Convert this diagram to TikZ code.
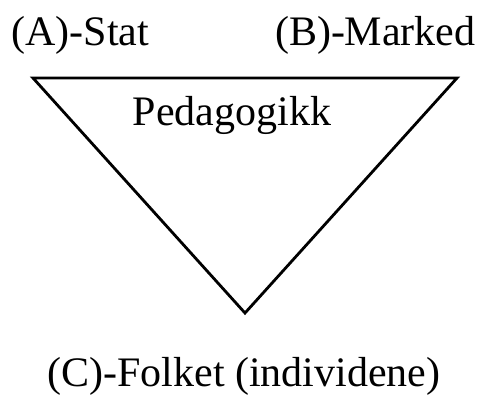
\documentclass[tikz,border=0pt]{standalone}
\usepackage{fontspec}
\setmainfont{Liberation Serif}
\usetikzlibrary{positioning}

\begin{document}
\begin{tikzpicture}[
  x=0.5pt, y=-0.5pt,
  lab/.style={font=\fontsize{21}{25}\selectfont, inner sep=0pt},
  tri/.style={draw, line width=1.4pt, line join=miter}
]
\useasboundingbox (0,0) rectangle (481,398);
\coordinate (tl) at (33,78);
\coordinate (tr) at (457,78);
\coordinate (bot) at (245,313);
\draw[tri] (tl) -- (tr) -- (bot) -- cycle;
\node[lab, anchor=base west] (stat) at (11,45) {(A)-Stat};
\node[lab, anchor=base east] (marked) at (476,45) {(B)-Marked};
\node[lab, anchor=base] (ped) at (232,125) {Pedagogikk};
\node[lab, anchor=base] (folket) at (244,386) {(C)-Folket (individene)};
\end{tikzpicture}
\end{document}
